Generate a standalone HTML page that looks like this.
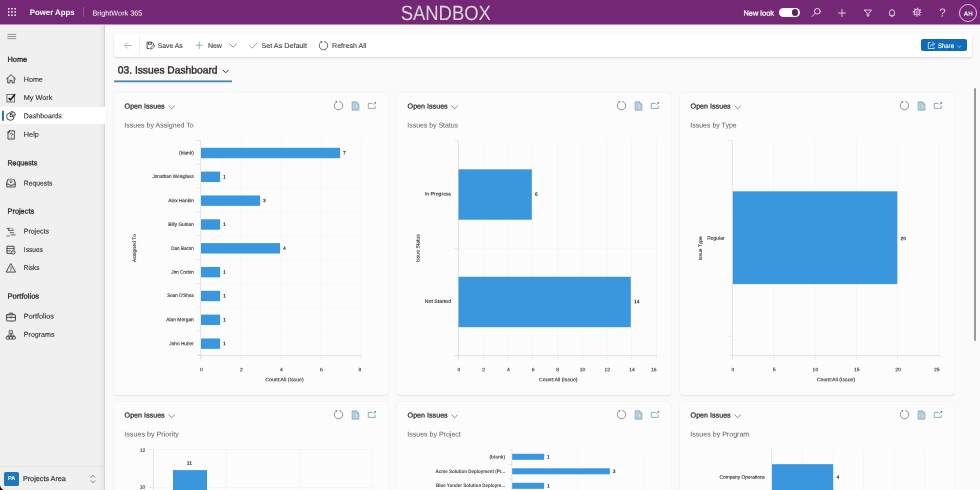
<!DOCTYPE html>
<html><head><meta charset="utf-8"><title>Issues Dashboard</title>
<style>
html,body{margin:0;padding:0;}
body{width:980px;height:490px;overflow:hidden;position:relative;background:#fafafa;font-family:"Liberation Sans",sans-serif;}
.t{position:absolute;white-space:nowrap;filter:grayscale(1);}
.r{position:absolute;overflow:visible;}
#app{position:absolute;left:0;top:0;width:980px;height:490px;overflow:hidden;}
</style></head><body><div id="app">
<div class="r" style="left:0px;top:0px;width:980px;height:490px;background:#fafafa;"></div>
<div class="r" style="left:0px;top:24.5px;width:104.7px;height:466px;background:#f0f0f0;"></div>
<div class="r" style="left:98.5px;top:24.5px;width:6.2px;height:466px;background:linear-gradient(to right,rgba(0,0,0,0),rgba(0,0,0,.06));"></div>
<div class="r" style="left:104.1px;top:24.5px;width:0.6px;height:466px;background:rgba(0,0,0,.07);"></div>
<svg class="r" style="left:0px;top:0px;" width="980" height="26" viewBox="0 0 980 26"><rect x="0" y="0" width="980" height="24.5" fill="#742774"/></svg>
<svg class="r" style="left:7.0px;top:7.3px;" width="10" height="10" viewBox="0 0 10 10"><rect x="1.0" y="1.0" width="1.5" height="1.5" fill="#fff"/><rect x="1.0" y="4.2" width="1.5" height="1.5" fill="#fff"/><rect x="1.0" y="7.4" width="1.5" height="1.5" fill="#fff"/><rect x="4.2" y="1.0" width="1.5" height="1.5" fill="#fff"/><rect x="4.2" y="4.2" width="1.5" height="1.5" fill="#fff"/><rect x="4.2" y="7.4" width="1.5" height="1.5" fill="#fff"/><rect x="7.4" y="1.0" width="1.5" height="1.5" fill="#fff"/><rect x="7.4" y="4.2" width="1.5" height="1.5" fill="#fff"/><rect x="7.4" y="7.4" width="1.5" height="1.5" fill="#fff"/></svg>
<div class="t" style="font-size:8.0px;line-height:12px;left:29px;top:7px;color:#fff;transform-origin:0 50%;transform:translate(0.70px,0.10px) rotate(0.03deg) scaleX(0.9797);font-weight:700;">Power Apps</div>
<div class="r" style="left:83px;top:6.5px;width:0.6px;height:10.5px;background:rgba(255,255,255,.22);"></div>
<div class="t" style="font-size:7.2px;line-height:11px;left:92px;top:7px;color:#fff;transform-origin:0 50%;transform:translate(0.40px,0.50px) rotate(0.03deg) scaleX(1.0104);">BrightWork 365</div>
<div class="t" style="font-size:20.6px;line-height:24px;left:395px;top:0px;color:#eccfea;transform-origin:50% 50%;transform:translate(0.43px,0.80px) rotate(0.03deg) scaleX(0.8964);">SANDBOX</div>
<div class="t" style="font-size:7.2px;line-height:11px;left:743px;top:7px;color:#fff;transform-origin:0 50%;transform:translate(0.50px,0.40px) rotate(0.03deg) scaleX(1.0300);-webkit-text-stroke:0.25px #fff;">New look</div>
<div class="r" style="left:779px;top:8.3px;width:20.5px;height:8.8px;background:#fff;border-radius:5px;"></div>
<div class="r" style="left:791.6px;top:9.4px;width:6.5px;height:6.5px;background:#5e1f5e;border-radius:50%;"></div>
<svg class="r" style="left:811.3000000000001px;top:7.2px;" width="10.6" height="10.6" viewBox="0 0 20 20"><circle cx="12" cy="8" r="5.4" stroke="#f8e4f8" fill="none" stroke-width="1.7" stroke-linecap="round" stroke-linejoin="round"/><path d="M8.1 11.9 L2.3 17.7" stroke="#f8e4f8" fill="none" stroke-width="1.7" stroke-linecap="round" stroke-linejoin="round"/></svg>
<svg class="r" style="left:836.7px;top:7.5px;" width="10" height="10" viewBox="0 0 20 20"><path d="M10 2V18M2 10H18" stroke="#fff" stroke-width="1.45" fill="none"/></svg>
<svg class="r" style="left:862.5px;top:7.5px;" width="10" height="10" viewBox="0 0 20 20"><path d="M3 4H17L11.6 10.6V16.2H8.4V10.6Z" stroke="#f8e4f8" fill="none" stroke-width="1.7" stroke-linecap="round" stroke-linejoin="round"/></svg>
<svg class="r" style="left:886.5px;top:7.5px;" width="10" height="10" viewBox="0 0 20 20"><path d="M5.2 14V8.2a4.8 4.8 0 0 1 9.6 0V14Z M8 16.8a2.2 1.6 0 0 0 4 0" stroke="#f8e4f8" fill="none" stroke-width="1.7" stroke-linecap="round" stroke-linejoin="round"/></svg>
<svg class="r" style="left:912.4px;top:7.4px;" width="10.2" height="10.2" viewBox="0 0 20 20"><circle cx="10" cy="10" r="5.5" stroke="#f6dcf6" stroke-width="1.7" fill="none"/><circle cx="10" cy="10" r="7.5" stroke="#f6dcf6" stroke-width="2.3" fill="none" stroke-dasharray="2.7 3.19" stroke-dashoffset="1.35"/><circle cx="10" cy="10" r="2.3" stroke="#f6dcf6" stroke-width="1.4" fill="none"/></svg>
<div class="t" style="font-size:11.6px;line-height:14px;left:939px;top:5px;color:#f3cdf2;transform-origin:50% 50%;transform:translate(0.37px,0.60px) rotate(0.03deg) scaleX(1.0000);">?</div>
<div class="r" style="left:959.3px;top:4.0px;width:16.2px;height:16.2px;border:0.8px solid #ecc0eb;border-radius:50%;"></div>
<div class="t" style="font-size:6.2px;line-height:9px;left:963px;top:8px;color:#fff;transform-origin:50% 50%;transform:translate(0.72px,0.70px) rotate(0.03deg) scaleX(1.0050);font-weight:700;">AH</div>
<svg class="r" style="left:6.8px;top:32.9px;" width="9.5" height="7" viewBox="0 0 9.5 7"><path d="M0.4 1.4H9.2M0.4 3.5H9.2M0.4 5.6H9.2" stroke="#606060" stroke-width="0.65" fill="none"/></svg>
<div class="t" style="font-size:7.2px;line-height:11px;left:7px;top:53px;color:#262626;transform-origin:0 50%;transform:translate(0.50px,0.80px) rotate(0.03deg) scaleX(1.0206);-webkit-text-stroke:0.28px #262626;">Home</div>
<svg class="r" style="left:5.4px;top:73.4px;" width="12" height="12" viewBox="0 0 20 20"><path d="M2.6 9.8L10 3l7.4 6.8" stroke="#3c3c3c" fill="none" stroke-width="1.55" stroke-linecap="round" stroke-linejoin="round"/><path d="M4.6 8.4V16.6h3.6v-4.4h3.6v4.4h3.6V8.4" stroke="#3c3c3c" fill="none" stroke-width="1.55" stroke-linecap="round" stroke-linejoin="round"/></svg>
<div class="t" style="font-size:7.1px;line-height:10px;left:23px;top:74px;color:#2b2b2b;transform-origin:0 50%;transform:translate(0.80px,0.80px) rotate(0.03deg) scaleX(1.0033);-webkit-text-stroke:0.1px #2b2b2b;">Home</div>
<svg class="r" style="left:5.4px;top:91.6px;" width="12" height="12" viewBox="0 0 20 20"><rect x="3.2" y="4" width="12.6" height="12.6" stroke="#555" fill="none" stroke-width="1.4"/><path d="M6.2 10.2l3 3.1 7.6-9.6" stroke="#111" fill="none" stroke-width="2.5" stroke-linejoin="miter"/></svg>
<div class="t" style="font-size:7.1px;line-height:10px;left:23px;top:92px;color:#2b2b2b;transform-origin:0 50%;transform:translate(0.80px,1.00px) rotate(0.03deg) scaleX(1.0261);-webkit-text-stroke:0.1px #2b2b2b;">My Work</div>
<div class="r" style="left:0px;top:106.8px;width:104.7px;height:17.5px;background:#ffffff;"></div>
<svg class="r" style="left:0px;top:108px;" width="6" height="16" viewBox="0 0 6 16"><rect x="2" y="2.4" width="1.9" height="10.6" rx="0.9" fill="#1e6fae"/></svg>
<svg class="r" style="left:5.4px;top:110.2px;" width="12" height="12" viewBox="0 0 20 20"><path d="M9 4.8A6.2 6.2 0 1 0 15.2 11H9Z" stroke="#3c3c3c" fill="none" stroke-width="1.55" stroke-linecap="round" stroke-linejoin="round"/><path d="M11.4 2.6V8.6H17.4A6 6 0 0 0 11.4 2.6Z" stroke="#3c3c3c" fill="none" stroke-width="1.55" stroke-linecap="round" stroke-linejoin="round"/></svg>
<div class="t" style="font-size:7.1px;line-height:10px;left:23px;top:111px;color:#2b2b2b;transform-origin:0 50%;transform:translate(0.80px,0.30px) rotate(0.03deg) scaleX(0.9900);-webkit-text-stroke:0.1px #2b2b2b;">Dashboards</div>
<svg class="r" style="left:5.4px;top:128.6px;" width="12" height="12" viewBox="0 0 20 20"><path d="M7.5 3H15.5V16.8H5V5.5Z M7.5 3V5.5H5" stroke="#3c3c3c" fill="none" stroke-width="1.55" stroke-linecap="round" stroke-linejoin="round"/><path d="M8.7 8.6a1.9 1.9 0 1 1 2.6 1.8c-.6.3-.9.7-.9 1.4M10.4 14v.2" stroke="#3c3c3c" fill="none" stroke-width="1.3" stroke-linecap="round" stroke-linejoin="round"/></svg>
<div class="t" style="font-size:7.1px;line-height:10px;left:23px;top:129px;color:#2b2b2b;transform-origin:0 50%;transform:translate(0.80px,0.70px) rotate(0.03deg) scaleX(1.0341);-webkit-text-stroke:0.1px #2b2b2b;">Help</div>
<div class="t" style="font-size:7.2px;line-height:11px;left:7px;top:157px;color:#262626;transform-origin:0 50%;transform:translate(0.50px,0.20px) rotate(0.03deg) scaleX(0.9765);-webkit-text-stroke:0.28px #262626;">Requests</div>
<svg class="r" style="left:5.4px;top:177.3px;" width="12" height="12" viewBox="0 0 20 20"><path d="M3 9.5V16.5H17V9.5" stroke="#3c3c3c" fill="none" stroke-width="1.55" stroke-linecap="round" stroke-linejoin="round"/><path d="M3 12h3.8l1 1.8h4.4l1-1.8H17" stroke="#3c3c3c" fill="none" stroke-width="1.55" stroke-linecap="round" stroke-linejoin="round"/><path d="M3 9.5L4.6 4.4h2M17 9.5L15.4 4.4h-2" stroke="#3c3c3c" fill="none" stroke-width="1.55" stroke-linecap="round" stroke-linejoin="round"/><path d="M10 3v6.4M7.9 7.4L10 9.5l2.1-2.1" stroke="#3c3c3c" fill="none" stroke-width="1.3" stroke-linecap="round" stroke-linejoin="round"/></svg>
<div class="t" style="font-size:7.1px;line-height:10px;left:23px;top:178px;color:#2b2b2b;transform-origin:0 50%;transform:translate(0.80px,0.40px) rotate(0.03deg) scaleX(0.9569);-webkit-text-stroke:0.1px #2b2b2b;">Requests</div>
<div class="t" style="font-size:7.2px;line-height:11px;left:7px;top:205px;color:#262626;transform-origin:0 50%;transform:translate(0.50px,0.50px) rotate(0.03deg) scaleX(1.0266);-webkit-text-stroke:0.28px #262626;">Projects</div>
<svg class="r" style="left:5.4px;top:225.6px;" width="12" height="12" viewBox="0 0 20 20"><path d="M3.5 4h5M5.5 7.6h8M8.5 11.2h6M10 14.8h7M11.5 4l2 1.6M5 4l2 3.4" stroke="#3c3c3c" fill="none" stroke-width="1.3" stroke-linecap="round" stroke-linejoin="round"/><path d="M3 16.6h4" stroke="#3c3c3c" fill="none" stroke-width="1.3" stroke-linecap="round" stroke-linejoin="round"/></svg>
<div class="t" style="font-size:7.1px;line-height:10px;left:23px;top:226px;color:#2b2b2b;transform-origin:0 50%;transform:translate(0.80px,0.40px) rotate(0.03deg) scaleX(0.9787);-webkit-text-stroke:0.1px #2b2b2b;">Projects</div>
<svg class="r" style="left:5.4px;top:243.9px;" width="12" height="12" viewBox="0 0 20 20"><path d="M12 15.6H3.4V3.8H15v6" stroke="#3c3c3c" fill="none" stroke-width="1.55" stroke-linecap="round" stroke-linejoin="round"/><path d="M3.4 7.6H15M3.4 11.4h6" stroke="#3c3c3c" fill="none" stroke-width="1.3" stroke-linecap="round" stroke-linejoin="round"/><circle cx="13.8" cy="14" r="3.1" stroke="#3c3c3c" fill="#f0f0f0" stroke-width="1.4"/><path d="M13.8 12.4v1.8M13.8 15.5v.1" stroke="#3c3c3c" stroke-width="1.1" fill="none"/></svg>
<div class="t" style="font-size:7.1px;line-height:10px;left:23px;top:245px;color:#2b2b2b;transform-origin:0 50%;transform:translate(0.80px,0.00px) rotate(0.03deg) scaleX(0.9308);-webkit-text-stroke:0.1px #2b2b2b;">Issues</div>
<svg class="r" style="left:5.4px;top:262.2px;" width="12" height="12" viewBox="0 0 20 20"><path d="M10 3.2L17.6 16.8H2.4Z" stroke="#3c3c3c" fill="none" stroke-width="1.55" stroke-linecap="round" stroke-linejoin="round"/><path d="M10 8.4v4.2M10 14.5v.2" stroke="#3c3c3c" fill="none" stroke-width="1.3" stroke-linecap="round" stroke-linejoin="round"/></svg>
<div class="t" style="font-size:7.1px;line-height:10px;left:23px;top:263px;color:#2b2b2b;transform-origin:0 50%;transform:translate(0.80px,0.30px) rotate(0.03deg) scaleX(0.8989);-webkit-text-stroke:0.1px #2b2b2b;">Risks</div>
<div class="t" style="font-size:7.2px;line-height:11px;left:7px;top:290px;color:#262626;transform-origin:0 50%;transform:translate(0.50px,0.40px) rotate(0.03deg) scaleX(1.0563);-webkit-text-stroke:0.28px #262626;">Portfolios</div>
<svg class="r" style="left:5.4px;top:310.5px;" width="12" height="12" viewBox="0 0 20 20"><rect x="2.6" y="6.2" width="14.8" height="10.4" rx="0.8" stroke="#3c3c3c" fill="none" stroke-width="1.55" stroke-linecap="round" stroke-linejoin="round"/><path d="M7 6.2V3.6h6V6.2M2.6 10.6h14.8M10 9.6v2" stroke="#3c3c3c" fill="none" stroke-width="1.55" stroke-linecap="round" stroke-linejoin="round"/></svg>
<div class="t" style="font-size:7.1px;line-height:10px;left:23px;top:311px;color:#2b2b2b;transform-origin:0 50%;transform:translate(0.80px,0.60px) rotate(0.03deg) scaleX(1.0204);-webkit-text-stroke:0.1px #2b2b2b;">Portfolios</div>
<svg class="r" style="left:5.4px;top:328.7px;" width="12" height="12" viewBox="0 0 20 20"><rect x="7.6" y="3" width="4.8" height="4.4" stroke="#3c3c3c" fill="none" stroke-width="1.3" stroke-linecap="round" stroke-linejoin="round"/><rect x="2.8" y="12.8" width="4.4" height="4" stroke="#3c3c3c" fill="none" stroke-width="1.3" stroke-linecap="round" stroke-linejoin="round"/><rect x="12.8" y="12.8" width="4.4" height="4" stroke="#3c3c3c" fill="none" stroke-width="1.3" stroke-linecap="round" stroke-linejoin="round"/><rect x="7.8" y="12.8" width="4.4" height="4" stroke="#3c3c3c" fill="none" stroke-width="1.3" stroke-linecap="round" stroke-linejoin="round"/><path d="M10 7.4v5.4M5 12.8v-2.6h10v2.6" stroke="#3c3c3c" fill="none" stroke-width="1.3" stroke-linecap="round" stroke-linejoin="round"/></svg>
<div class="t" style="font-size:7.1px;line-height:10px;left:23px;top:329px;color:#2b2b2b;transform-origin:0 50%;transform:translate(0.80px,0.80px) rotate(0.03deg) scaleX(0.9976);-webkit-text-stroke:0.1px #2b2b2b;">Programs</div>
<div class="r" style="left:0px;top:466.2px;width:104.7px;height:0.7px;background:#e4e4e4;"></div>
<svg class="r" style="left:0px;top:484px;" width="5" height="6" viewBox="0 0 5 6"><path d="M0 1.2Q0.4 4.6 3.4 6L0 6Z" fill="#0a0a0a"/></svg>
<div class="r" style="left:4.2px;top:471.6px;width:14.7px;height:14.3px;background:#1f78bd;border-radius:1.6px;"></div>
<div class="t" style="font-size:6.0px;line-height:9px;left:7px;top:474px;color:#fff;transform-origin:50% 50%;transform:translate(0.65px,0.20px) rotate(0.03deg) scaleX(0.9252);font-weight:700;">PA</div>
<div class="t" style="font-size:7.1px;line-height:10px;left:22px;top:474px;color:#3a3a3a;transform-origin:0 50%;transform:translate(0.90px,0.00px) rotate(0.03deg) scaleX(1.0184);-webkit-text-stroke:0.22px #3a3a3a;">Projects Area</div>
<svg class="r" style="left:90px;top:474px;" width="6" height="10" viewBox="0 0 6 10"><path d="M0.8 3.6L3 1.2 5.2 3.6M0.8 6.4L3 8.8 5.2 6.4" stroke="#555" stroke-width="0.7" fill="none"/></svg>
<div class="r" style="left:114px;top:34.2px;width:858px;height:22.6px;background:#fff;border-radius:2.5px;box-shadow:0 1px 2.2px rgba(0,0,0,.15);"></div>
<svg class="r" style="left:123.5px;top:41px;" width="9" height="9" viewBox="0 0 9 9"><path d="M7.6 4.5H1M3.8 1.6L0.9 4.5 3.8 7.4" stroke="#9c9c9c" stroke-width="0.7" fill="none" stroke-linecap="round" stroke-linejoin="round"/></svg>
<div class="r" style="left:139.2px;top:36px;width:0.6px;height:19px;background:#efefef;"></div>
<svg class="r" style="left:146px;top:40.8px;" width="9" height="9" viewBox="0 0 9 9"><path d="M1.1 1.2h4.9l1.5 1.5v1.4M1.1 1.2v6.3h2.3M2.6 1.2v2.1h2.8V1.2" stroke="#444" stroke-width="0.95" fill="none" stroke-linejoin="round"/><path d="M4.5 8.1l0.5-1.7 2.7-2.7 1.2 1.2-2.7 2.7Z" stroke="#444" stroke-width="0.8" fill="#fff" stroke-linejoin="round"/></svg>
<div class="t" style="font-size:6.9px;line-height:10px;left:157px;top:41px;color:#383838;transform-origin:0 50%;transform:translate(0.80px,0.00px) rotate(0.03deg) scaleX(0.9836);-webkit-text-stroke:0.08px #383838;">Save As</div>
<svg class="r" style="left:195px;top:41.1px;" width="8.5" height="8.5" viewBox="0 0 8.5 8.5"><path d="M4.25 0.5V8M0.5 4.25H8" stroke="#58b29a" stroke-width="0.75" fill="none"/></svg>
<div class="t" style="font-size:6.9px;line-height:10px;left:207px;top:41px;color:#383838;transform-origin:0 50%;transform:translate(0.90px,0.00px) rotate(0.03deg) scaleX(1.0143);-webkit-text-stroke:0.08px #383838;">New</div>
<svg class="r" style="left:228.6px;top:43.2px;" width="8.4" height="5" viewBox="0 0 8.4 5"><path d="M0.5 0.6L4.2 4.2 7.9 0.6" stroke="#6a6a6a" stroke-width="0.8" fill="none"/></svg>
<svg class="r" style="left:249px;top:42px;" width="9" height="7" viewBox="0 0 9 7"><path d="M0.6 3.8L3 6.2 8.4 0.7" stroke="#777" stroke-width="0.7" fill="none"/></svg>
<div class="t" style="font-size:6.9px;line-height:10px;left:261px;top:41px;color:#383838;transform-origin:0 50%;transform:translate(0.50px,0.00px) rotate(0.03deg) scaleX(1.0406);-webkit-text-stroke:0.08px #383838;">Set As Default</div>
<svg class="r" style="left:318.2px;top:39.8px;" width="11" height="11" viewBox="0 0 11 11"><path d="M6.23 1.46A4.2 4.2 0 1 1 3.09 2.16" stroke="#4a4a4a" stroke-width="0.85" fill="none"/><path d="M2.5 0.9L4.5 1.5 3.1 3.0Z" fill="#444"/></svg>
<div class="t" style="font-size:6.9px;line-height:10px;left:332px;top:41px;color:#383838;transform-origin:0 50%;transform:translate(0.00px,0.00px) rotate(0.03deg) scaleX(1.0341);-webkit-text-stroke:0.08px #383838;">Refresh All</div>
<div class="r" style="left:920.8px;top:38.8px;width:46.1px;height:12.6px;background:#0f6cbd;border-radius:2px;"></div>
<svg class="r" style="left:926.5px;top:40.8px;" width="9" height="9" viewBox="0 0 9 9"><path d="M3.6 1.6H1.3v5.9h5.9V6.2" stroke="#fff" stroke-width="0.75" fill="none"/><path d="M3.6 5.6C3.8 3.8 4.9 3 6.4 3M5.5 1.2l2.2 1.9-2.2 1.9" stroke="#fff" stroke-width="0.75" fill="none" stroke-linejoin="round"/></svg>
<div class="t" style="font-size:6.6px;line-height:10px;left:938px;top:40px;color:#fff;transform-origin:0 50%;transform:translate(0.00px,0.70px) rotate(0.03deg) scaleX(0.9085);-webkit-text-stroke:0.15px #fff;">Share</div>
<svg class="r" style="left:956.7px;top:44.5px;" width="4.6" height="3.2" viewBox="0 0 4.6 3.2"><path d="M0.5 0.6L2.3 2.4 4.1 0.6" stroke="#fff" stroke-width="0.6" fill="none"/></svg>
<div class="t" style="font-size:10.4px;line-height:14px;left:117px;top:63px;color:#2a2a2a;transform-origin:0 50%;transform:translate(0.80px,0.50px) rotate(0.03deg) scaleX(0.9865);-webkit-text-stroke:0.4px #2a2a2a;">03. Issues Dashboard</div>
<svg class="r" style="left:221.6px;top:68.8px;" width="7.5" height="5" viewBox="0 0 7.5 5"><path d="M0.8 0.9L3.7 3.8 6.6 0.9" stroke="#2b2b2b" stroke-width="1.0" fill="none"/></svg>
<svg class="r" style="left:113px;top:78.5px;" width="121" height="5" viewBox="0 0 121 5"><rect x="1" y="1.6" width="118" height="1.3" rx="0.5" fill="#2f76a9"/><rect x="1.4" y="2.8" width="117.2" height="0.8" rx="0.4" fill="#8fc4e3"/></svg>
<div class="r" style="left:974px;top:87.5px;width:2px;height:253px;background:#9a9a9a;border-radius:1px;"></div>
<div class="r" style="left:114px;top:93px;width:274px;height:302px;background:#fcfcfc;border-radius:3px;box-shadow:0 0.6px 1.8px rgba(0,0,0,.085),0 0 0.8px rgba(0,0,0,.05);"></div>
<div class="t" style="font-size:7.1px;line-height:10px;left:124px;top:101px;color:#262626;transform-origin:0 50%;transform:translate(0.60px,0.40px) rotate(0.03deg) scaleX(1.0061);-webkit-text-stroke:0.23px #262626;">Open Issues</div>
<svg class="r" style="left:168.1px;top:104.7px;" width="7.4" height="4.6" viewBox="0 0 7.4 4.6"><path d="M0.5 0.6L3.7 3.8 6.9 0.6" stroke="#5a5a5a" stroke-width="0.7" fill="none"/></svg>
<div class="t" style="font-size:7.1px;line-height:10px;left:124px;top:120px;color:#5a5a5a;transform-origin:0 50%;transform:translate(0.30px,0.50px) rotate(0.03deg) scaleX(0.9912);">Issues by Assigned To</div>
<svg class="r" style="left:333px;top:100px;" width="11" height="11" viewBox="0 0 11 11"><path d="M6.23 1.46A4.2 4.2 0 1 1 3.09 2.16" stroke="#6d7882" stroke-width="0.8" fill="none"/><path d="M2.5 0.9L4.5 1.5 3.1 3.0Z" fill="#5d6872"/></svg>
<svg class="r" style="left:350.5px;top:100.5px;" width="10" height="10" viewBox="0 0 10 10"><path d="M1.1 0.8h4.6l2.2 2.2v6.2H1.1Z" fill="#b4cedb" stroke="#6f9ab3" stroke-width="0.6"/><path d="M5.7 0.8v2.2h2.2" fill="#dbe8ee" stroke="#6f9ab3" stroke-width="0.5"/><path d="M2.4 4.2h3.8M2.4 5.6h3.8M2.4 7h3.8" stroke="#eef5f8" stroke-width="0.6" fill="none"/><path d="M3.9 3.6v4.2" stroke="#7da6bb" stroke-width="0.7" fill="none"/></svg>
<svg class="r" style="left:367px;top:101px;" width="10" height="10" viewBox="0 0 10 10"><path d="M5.6 2.4H1.3v5h6.9V4.6" stroke="#7c9fae" stroke-width="0.85" fill="none"/><path d="M6.5 3.7L8.3 1.9" stroke="#4c7896" stroke-width="0.7" fill="none"/><circle cx="8.35" cy="1.8" r="0.75" fill="#3b6788"/></svg>
<div class="r" style="left:397px;top:93px;width:274px;height:302px;background:#fcfcfc;border-radius:3px;box-shadow:0 0.6px 1.8px rgba(0,0,0,.085),0 0 0.8px rgba(0,0,0,.05);"></div>
<div class="t" style="font-size:7.1px;line-height:10px;left:407px;top:101px;color:#262626;transform-origin:0 50%;transform:translate(0.60px,0.40px) rotate(0.03deg) scaleX(1.0061);-webkit-text-stroke:0.23px #262626;">Open Issues</div>
<svg class="r" style="left:451.1px;top:104.7px;" width="7.4" height="4.6" viewBox="0 0 7.4 4.6"><path d="M0.5 0.6L3.7 3.8 6.9 0.6" stroke="#5a5a5a" stroke-width="0.7" fill="none"/></svg>
<div class="t" style="font-size:7.1px;line-height:10px;left:407px;top:120px;color:#5a5a5a;transform-origin:0 50%;transform:translate(0.30px,0.50px) rotate(0.03deg) scaleX(0.9752);">Issues by Status</div>
<svg class="r" style="left:616px;top:100px;" width="11" height="11" viewBox="0 0 11 11"><path d="M6.23 1.46A4.2 4.2 0 1 1 3.09 2.16" stroke="#6d7882" stroke-width="0.8" fill="none"/><path d="M2.5 0.9L4.5 1.5 3.1 3.0Z" fill="#5d6872"/></svg>
<svg class="r" style="left:633.5px;top:100.5px;" width="10" height="10" viewBox="0 0 10 10"><path d="M1.1 0.8h4.6l2.2 2.2v6.2H1.1Z" fill="#b4cedb" stroke="#6f9ab3" stroke-width="0.6"/><path d="M5.7 0.8v2.2h2.2" fill="#dbe8ee" stroke="#6f9ab3" stroke-width="0.5"/><path d="M2.4 4.2h3.8M2.4 5.6h3.8M2.4 7h3.8" stroke="#eef5f8" stroke-width="0.6" fill="none"/><path d="M3.9 3.6v4.2" stroke="#7da6bb" stroke-width="0.7" fill="none"/></svg>
<svg class="r" style="left:650px;top:101px;" width="10" height="10" viewBox="0 0 10 10"><path d="M5.6 2.4H1.3v5h6.9V4.6" stroke="#7c9fae" stroke-width="0.85" fill="none"/><path d="M6.5 3.7L8.3 1.9" stroke="#4c7896" stroke-width="0.7" fill="none"/><circle cx="8.35" cy="1.8" r="0.75" fill="#3b6788"/></svg>
<div class="r" style="left:680px;top:93px;width:274px;height:302px;background:#fcfcfc;border-radius:3px;box-shadow:0 0.6px 1.8px rgba(0,0,0,.085),0 0 0.8px rgba(0,0,0,.05);"></div>
<div class="t" style="font-size:7.1px;line-height:10px;left:690px;top:101px;color:#262626;transform-origin:0 50%;transform:translate(0.60px,0.40px) rotate(0.03deg) scaleX(1.0061);-webkit-text-stroke:0.23px #262626;">Open Issues</div>
<svg class="r" style="left:734.1px;top:104.7px;" width="7.4" height="4.6" viewBox="0 0 7.4 4.6"><path d="M0.5 0.6L3.7 3.8 6.9 0.6" stroke="#5a5a5a" stroke-width="0.7" fill="none"/></svg>
<div class="t" style="font-size:7.1px;line-height:10px;left:690px;top:120px;color:#5a5a5a;transform-origin:0 50%;transform:translate(0.30px,0.50px) rotate(0.03deg) scaleX(0.9846);">Issues by Type</div>
<svg class="r" style="left:899px;top:100px;" width="11" height="11" viewBox="0 0 11 11"><path d="M6.23 1.46A4.2 4.2 0 1 1 3.09 2.16" stroke="#6d7882" stroke-width="0.8" fill="none"/><path d="M2.5 0.9L4.5 1.5 3.1 3.0Z" fill="#5d6872"/></svg>
<svg class="r" style="left:916.5px;top:100.5px;" width="10" height="10" viewBox="0 0 10 10"><path d="M1.1 0.8h4.6l2.2 2.2v6.2H1.1Z" fill="#b4cedb" stroke="#6f9ab3" stroke-width="0.6"/><path d="M5.7 0.8v2.2h2.2" fill="#dbe8ee" stroke="#6f9ab3" stroke-width="0.5"/><path d="M2.4 4.2h3.8M2.4 5.6h3.8M2.4 7h3.8" stroke="#eef5f8" stroke-width="0.6" fill="none"/><path d="M3.9 3.6v4.2" stroke="#7da6bb" stroke-width="0.7" fill="none"/></svg>
<svg class="r" style="left:933px;top:101px;" width="10" height="10" viewBox="0 0 10 10"><path d="M5.6 2.4H1.3v5h6.9V4.6" stroke="#7c9fae" stroke-width="0.85" fill="none"/><path d="M6.5 3.7L8.3 1.9" stroke="#4c7896" stroke-width="0.7" fill="none"/><circle cx="8.35" cy="1.8" r="0.75" fill="#3b6788"/></svg>
<div class="r" style="left:114px;top:402px;width:274px;height:120px;background:#fcfcfc;border-radius:3px;box-shadow:0 0.6px 1.8px rgba(0,0,0,.085),0 0 0.8px rgba(0,0,0,.05);"></div>
<div class="t" style="font-size:7.1px;line-height:10px;left:124px;top:410px;color:#262626;transform-origin:0 50%;transform:translate(0.60px,0.40px) rotate(0.03deg) scaleX(1.0061);-webkit-text-stroke:0.23px #262626;">Open Issues</div>
<svg class="r" style="left:168.1px;top:413.7px;" width="7.4" height="4.6" viewBox="0 0 7.4 4.6"><path d="M0.5 0.6L3.7 3.8 6.9 0.6" stroke="#5a5a5a" stroke-width="0.7" fill="none"/></svg>
<div class="t" style="font-size:7.1px;line-height:10px;left:124px;top:429px;color:#5a5a5a;transform-origin:0 50%;transform:translate(0.30px,0.50px) rotate(0.03deg) scaleX(1.0083);">Issues by Priority</div>
<svg class="r" style="left:333px;top:409px;" width="11" height="11" viewBox="0 0 11 11"><path d="M6.23 1.46A4.2 4.2 0 1 1 3.09 2.16" stroke="#6d7882" stroke-width="0.8" fill="none"/><path d="M2.5 0.9L4.5 1.5 3.1 3.0Z" fill="#5d6872"/></svg>
<svg class="r" style="left:350.5px;top:409.5px;" width="10" height="10" viewBox="0 0 10 10"><path d="M1.1 0.8h4.6l2.2 2.2v6.2H1.1Z" fill="#b4cedb" stroke="#6f9ab3" stroke-width="0.6"/><path d="M5.7 0.8v2.2h2.2" fill="#dbe8ee" stroke="#6f9ab3" stroke-width="0.5"/><path d="M2.4 4.2h3.8M2.4 5.6h3.8M2.4 7h3.8" stroke="#eef5f8" stroke-width="0.6" fill="none"/><path d="M3.9 3.6v4.2" stroke="#7da6bb" stroke-width="0.7" fill="none"/></svg>
<svg class="r" style="left:367px;top:410px;" width="10" height="10" viewBox="0 0 10 10"><path d="M5.6 2.4H1.3v5h6.9V4.6" stroke="#7c9fae" stroke-width="0.85" fill="none"/><path d="M6.5 3.7L8.3 1.9" stroke="#4c7896" stroke-width="0.7" fill="none"/><circle cx="8.35" cy="1.8" r="0.75" fill="#3b6788"/></svg>
<div class="r" style="left:397px;top:402px;width:274px;height:120px;background:#fcfcfc;border-radius:3px;box-shadow:0 0.6px 1.8px rgba(0,0,0,.085),0 0 0.8px rgba(0,0,0,.05);"></div>
<div class="t" style="font-size:7.1px;line-height:10px;left:407px;top:410px;color:#262626;transform-origin:0 50%;transform:translate(0.60px,0.40px) rotate(0.03deg) scaleX(1.0061);-webkit-text-stroke:0.23px #262626;">Open Issues</div>
<svg class="r" style="left:451.1px;top:413.7px;" width="7.4" height="4.6" viewBox="0 0 7.4 4.6"><path d="M0.5 0.6L3.7 3.8 6.9 0.6" stroke="#5a5a5a" stroke-width="0.7" fill="none"/></svg>
<div class="t" style="font-size:7.1px;line-height:10px;left:407px;top:429px;color:#5a5a5a;transform-origin:0 50%;transform:translate(0.30px,0.50px) rotate(0.03deg) scaleX(0.9897);">Issues by Project</div>
<svg class="r" style="left:616px;top:409px;" width="11" height="11" viewBox="0 0 11 11"><path d="M6.23 1.46A4.2 4.2 0 1 1 3.09 2.16" stroke="#6d7882" stroke-width="0.8" fill="none"/><path d="M2.5 0.9L4.5 1.5 3.1 3.0Z" fill="#5d6872"/></svg>
<svg class="r" style="left:633.5px;top:409.5px;" width="10" height="10" viewBox="0 0 10 10"><path d="M1.1 0.8h4.6l2.2 2.2v6.2H1.1Z" fill="#b4cedb" stroke="#6f9ab3" stroke-width="0.6"/><path d="M5.7 0.8v2.2h2.2" fill="#dbe8ee" stroke="#6f9ab3" stroke-width="0.5"/><path d="M2.4 4.2h3.8M2.4 5.6h3.8M2.4 7h3.8" stroke="#eef5f8" stroke-width="0.6" fill="none"/><path d="M3.9 3.6v4.2" stroke="#7da6bb" stroke-width="0.7" fill="none"/></svg>
<svg class="r" style="left:650px;top:410px;" width="10" height="10" viewBox="0 0 10 10"><path d="M5.6 2.4H1.3v5h6.9V4.6" stroke="#7c9fae" stroke-width="0.85" fill="none"/><path d="M6.5 3.7L8.3 1.9" stroke="#4c7896" stroke-width="0.7" fill="none"/><circle cx="8.35" cy="1.8" r="0.75" fill="#3b6788"/></svg>
<div class="r" style="left:680px;top:402px;width:274px;height:120px;background:#fcfcfc;border-radius:3px;box-shadow:0 0.6px 1.8px rgba(0,0,0,.085),0 0 0.8px rgba(0,0,0,.05);"></div>
<div class="t" style="font-size:7.1px;line-height:10px;left:690px;top:410px;color:#262626;transform-origin:0 50%;transform:translate(0.60px,0.40px) rotate(0.03deg) scaleX(1.0061);-webkit-text-stroke:0.23px #262626;">Open Issues</div>
<svg class="r" style="left:734.1px;top:413.7px;" width="7.4" height="4.6" viewBox="0 0 7.4 4.6"><path d="M0.5 0.6L3.7 3.8 6.9 0.6" stroke="#5a5a5a" stroke-width="0.7" fill="none"/></svg>
<div class="t" style="font-size:7.1px;line-height:10px;left:690px;top:429px;color:#5a5a5a;transform-origin:0 50%;transform:translate(0.30px,0.50px) rotate(0.03deg) scaleX(0.9969);">Issues by Program</div>
<svg class="r" style="left:899px;top:409px;" width="11" height="11" viewBox="0 0 11 11"><path d="M6.23 1.46A4.2 4.2 0 1 1 3.09 2.16" stroke="#6d7882" stroke-width="0.8" fill="none"/><path d="M2.5 0.9L4.5 1.5 3.1 3.0Z" fill="#5d6872"/></svg>
<svg class="r" style="left:916.5px;top:409.5px;" width="10" height="10" viewBox="0 0 10 10"><path d="M1.1 0.8h4.6l2.2 2.2v6.2H1.1Z" fill="#b4cedb" stroke="#6f9ab3" stroke-width="0.6"/><path d="M5.7 0.8v2.2h2.2" fill="#dbe8ee" stroke="#6f9ab3" stroke-width="0.5"/><path d="M2.4 4.2h3.8M2.4 5.6h3.8M2.4 7h3.8" stroke="#eef5f8" stroke-width="0.6" fill="none"/><path d="M3.9 3.6v4.2" stroke="#7da6bb" stroke-width="0.7" fill="none"/></svg>
<svg class="r" style="left:933px;top:410px;" width="10" height="10" viewBox="0 0 10 10"><path d="M5.6 2.4H1.3v5h6.9V4.6" stroke="#7c9fae" stroke-width="0.85" fill="none"/><path d="M6.5 3.7L8.3 1.9" stroke="#4c7896" stroke-width="0.7" fill="none"/><circle cx="8.35" cy="1.8" r="0.75" fill="#3b6788"/></svg>
<svg class="r" style="left:0;top:0;" width="980" height="490" viewBox="0 0 980 490"><rect x="240.70" y="140.40" width="0.60" height="214.90" fill="#f2f2f2"/><rect x="280.70" y="140.40" width="0.60" height="214.90" fill="#f2f2f2"/><rect x="320.70" y="140.40" width="0.60" height="214.90" fill="#f2f2f2"/><rect x="360.70" y="140.40" width="0.60" height="214.90" fill="#f2f2f2"/><rect x="201.00" y="163.93" width="160.00" height="0.60" fill="#f5f5f5"/><rect x="201.00" y="187.76" width="160.00" height="0.60" fill="#f5f5f5"/><rect x="201.00" y="211.59" width="160.00" height="0.60" fill="#f5f5f5"/><rect x="201.00" y="235.42" width="160.00" height="0.60" fill="#f5f5f5"/><rect x="201.00" y="259.25" width="160.00" height="0.60" fill="#f5f5f5"/><rect x="201.00" y="283.08" width="160.00" height="0.60" fill="#f5f5f5"/><rect x="201.00" y="306.91" width="160.00" height="0.60" fill="#f5f5f5"/><rect x="201.00" y="330.74" width="160.00" height="0.60" fill="#f5f5f5"/><rect x="200.40" y="140.40" width="0.70" height="218.70" fill="#dadada"/><rect x="198.00" y="355.00" width="163.00" height="0.70" fill="#dadada"/><rect x="197.00" y="140.10" width="4.00" height="0.60" fill="#dadada"/><rect x="197.00" y="163.93" width="4.00" height="0.60" fill="#dadada"/><rect x="197.00" y="187.76" width="4.00" height="0.60" fill="#dadada"/><rect x="197.00" y="211.59" width="4.00" height="0.60" fill="#dadada"/><rect x="197.00" y="235.42" width="4.00" height="0.60" fill="#dadada"/><rect x="197.00" y="259.25" width="4.00" height="0.60" fill="#dadada"/><rect x="197.00" y="283.08" width="4.00" height="0.60" fill="#dadada"/><rect x="197.00" y="306.91" width="4.00" height="0.60" fill="#dadada"/><rect x="197.00" y="330.74" width="4.00" height="0.60" fill="#dadada"/><rect x="197.00" y="354.57" width="4.00" height="0.60" fill="#dadada"/><rect x="201.00" y="147.80" width="139.10" height="10.40" fill="#3a96dd"/><rect x="201.00" y="171.63" width="19.10" height="10.40" fill="#3a96dd"/><rect x="201.00" y="195.46" width="59.10" height="10.40" fill="#3a96dd"/><rect x="201.00" y="219.29" width="19.10" height="10.40" fill="#3a96dd"/><rect x="201.00" y="243.12" width="79.10" height="10.40" fill="#3a96dd"/><rect x="201.00" y="266.95" width="19.10" height="10.40" fill="#3a96dd"/><rect x="201.00" y="290.78" width="19.10" height="10.40" fill="#3a96dd"/><rect x="201.00" y="314.61" width="19.10" height="10.40" fill="#3a96dd"/><rect x="201.00" y="338.44" width="19.10" height="10.40" fill="#3a96dd"/><rect x="200.70" y="355.30" width="0.60" height="3.80" fill="#dadada"/><rect x="240.70" y="355.30" width="0.60" height="3.80" fill="#dadada"/><rect x="280.70" y="355.30" width="0.60" height="3.80" fill="#dadada"/><rect x="320.70" y="355.30" width="0.60" height="3.80" fill="#dadada"/><rect x="360.70" y="355.30" width="0.60" height="3.80" fill="#dadada"/><rect x="482.94" y="140.40" width="0.60" height="214.90" fill="#f2f2f2"/><rect x="507.68" y="140.40" width="0.60" height="214.90" fill="#f2f2f2"/><rect x="532.42" y="140.40" width="0.60" height="214.90" fill="#f2f2f2"/><rect x="557.16" y="140.40" width="0.60" height="214.90" fill="#f2f2f2"/><rect x="581.90" y="140.40" width="0.60" height="214.90" fill="#f2f2f2"/><rect x="606.64" y="140.40" width="0.60" height="214.90" fill="#f2f2f2"/><rect x="631.38" y="140.40" width="0.60" height="214.90" fill="#f2f2f2"/><rect x="656.12" y="140.40" width="0.60" height="214.90" fill="#f2f2f2"/><rect x="457.90" y="140.40" width="0.70" height="218.70" fill="#dadada"/><rect x="454.50" y="355.00" width="201.90" height="0.70" fill="#dadada"/><rect x="454.50" y="140.10" width="4.00" height="0.60" fill="#dadada"/><rect x="454.50" y="248.00" width="4.00" height="0.60" fill="#dadada"/><rect x="454.50" y="355.00" width="4.00" height="0.60" fill="#dadada"/><rect x="458.50" y="248.00" width="197.90" height="0.60" fill="#f5f5f5"/><rect x="458.50" y="169.33" width="73.32" height="50.40" fill="#3a96dd"/><rect x="458.50" y="276.78" width="172.28" height="50.40" fill="#3a96dd"/><rect x="458.20" y="355.30" width="0.60" height="3.80" fill="#dadada"/><rect x="482.94" y="355.30" width="0.60" height="3.80" fill="#dadada"/><rect x="507.68" y="355.30" width="0.60" height="3.80" fill="#dadada"/><rect x="532.42" y="355.30" width="0.60" height="3.80" fill="#dadada"/><rect x="557.16" y="355.30" width="0.60" height="3.80" fill="#dadada"/><rect x="581.90" y="355.30" width="0.60" height="3.80" fill="#dadada"/><rect x="606.64" y="355.30" width="0.60" height="3.80" fill="#dadada"/><rect x="631.38" y="355.30" width="0.60" height="3.80" fill="#dadada"/><rect x="656.12" y="355.30" width="0.60" height="3.80" fill="#dadada"/><rect x="773.50" y="140.40" width="0.60" height="214.90" fill="#f2f2f2"/><rect x="814.80" y="140.40" width="0.60" height="214.90" fill="#f2f2f2"/><rect x="856.10" y="140.40" width="0.60" height="214.90" fill="#f2f2f2"/><rect x="897.40" y="140.40" width="0.60" height="214.90" fill="#f2f2f2"/><rect x="938.70" y="140.40" width="0.60" height="214.90" fill="#f2f2f2"/><rect x="731.90" y="140.40" width="0.70" height="218.70" fill="#dadada"/><rect x="729.50" y="355.00" width="209.70" height="0.70" fill="#dadada"/><rect x="728.50" y="140.10" width="4.00" height="0.60" fill="#dadada"/><rect x="728.50" y="335.80" width="4.00" height="0.60" fill="#dadada"/><rect x="732.80" y="191.30" width="164.50" height="92.80" fill="#3a96dd"/><rect x="732.20" y="355.30" width="0.60" height="3.80" fill="#dadada"/><rect x="773.50" y="355.30" width="0.60" height="3.80" fill="#dadada"/><rect x="814.80" y="355.30" width="0.60" height="3.80" fill="#dadada"/><rect x="856.10" y="355.30" width="0.60" height="3.80" fill="#dadada"/><rect x="897.40" y="355.30" width="0.60" height="3.80" fill="#dadada"/><rect x="938.70" y="355.30" width="0.60" height="3.80" fill="#dadada"/><rect x="226.30" y="449.70" width="0.60" height="41.00" fill="#f2f2f2"/><rect x="299.40" y="449.70" width="0.60" height="41.00" fill="#f2f2f2"/><rect x="372.50" y="449.70" width="0.60" height="41.00" fill="#f2f2f2"/><rect x="152.90" y="449.70" width="0.70" height="41.00" fill="#dadada"/><rect x="148.50" y="449.40" width="5.00" height="0.60" fill="#dadada"/><rect x="148.50" y="487.00" width="5.00" height="0.60" fill="#dadada"/><rect x="153.50" y="449.40" width="219.30" height="0.60" fill="#f2f2f2"/><rect x="153.50" y="487.00" width="219.30" height="0.60" fill="#f2f2f2"/><rect x="173.00" y="470.10" width="34.00" height="21.00" fill="#3a96dd"/><rect x="544.75" y="449.70" width="0.60" height="41.00" fill="#f6f6f6"/><rect x="577.60" y="449.70" width="0.60" height="41.00" fill="#f6f6f6"/><rect x="610.45" y="449.70" width="0.60" height="41.00" fill="#f6f6f6"/><rect x="643.30" y="449.70" width="0.60" height="41.00" fill="#f6f6f6"/><rect x="511.60" y="449.70" width="0.70" height="41.00" fill="#dadada"/><rect x="509.20" y="449.40" width="3.00" height="0.60" fill="#dadada"/><rect x="509.20" y="464.00" width="3.00" height="0.60" fill="#dadada"/><rect x="509.20" y="478.60" width="3.00" height="0.60" fill="#dadada"/><rect x="509.20" y="493.20" width="3.00" height="0.60" fill="#dadada"/><rect x="512.20" y="453.80" width="31.95" height="6.00" fill="#3a96dd"/><rect x="512.20" y="468.30" width="97.65" height="6.00" fill="#3a96dd"/><rect x="512.20" y="482.80" width="31.95" height="6.00" fill="#3a96dd"/><rect x="802.30" y="449.70" width="0.60" height="41.00" fill="#f2f2f2"/><rect x="832.90" y="449.70" width="0.60" height="41.00" fill="#f2f2f2"/><rect x="863.50" y="449.70" width="0.60" height="41.00" fill="#f2f2f2"/><rect x="894.10" y="449.70" width="0.60" height="41.00" fill="#f2f2f2"/><rect x="924.70" y="449.70" width="0.60" height="41.00" fill="#f2f2f2"/><rect x="771.40" y="449.70" width="0.70" height="41.00" fill="#dadada"/><rect x="769.00" y="449.40" width="3.00" height="0.60" fill="#dadada"/><rect x="772.00" y="464.20" width="61.20" height="26.00" fill="#3a96dd"/></svg>
<div class="t" style="font-size:5.0px;line-height:8px;left:178px;top:148px;color:#1e1e1e;transform-origin:100% 50%;transform:translate(0.52px,0.50px) rotate(0.03deg) scaleX(0.9619);-webkit-text-stroke:0.08px #1e1e1e;">(blank)</div>
<div class="t" style="font-size:5.0px;line-height:8px;left:343px;top:148px;color:#2a2a2a;transform-origin:0 50%;transform:translate(0.00px,0.60px) rotate(0.03deg) scaleX(1.0000);font-weight:700;">7</div>
<div class="t" style="font-size:5.0px;line-height:8px;left:149px;top:172px;color:#1e1e1e;transform-origin:100% 50%;transform:translate(0.15px,0.33px) rotate(0.03deg) scaleX(0.9271);-webkit-text-stroke:0.08px #1e1e1e;">Jonathan Weisglass</div>
<div class="t" style="font-size:5.0px;line-height:8px;left:223px;top:172px;color:#2a2a2a;transform-origin:0 50%;transform:translate(0.00px,0.43px) rotate(0.03deg) scaleX(1.0000);font-weight:700;">1</div>
<div class="t" style="font-size:5.0px;line-height:8px;left:167px;top:196px;color:#1e1e1e;transform-origin:100% 50%;transform:translate(0.12px,0.16px) rotate(0.03deg) scaleX(0.9558);-webkit-text-stroke:0.08px #1e1e1e;">Alex Hankin</div>
<div class="t" style="font-size:5.0px;line-height:8px;left:263px;top:196px;color:#2a2a2a;transform-origin:0 50%;transform:translate(0.00px,0.26px) rotate(0.03deg) scaleX(1.0000);font-weight:700;">3</div>
<div class="t" style="font-size:5.0px;line-height:8px;left:167px;top:219px;color:#1e1e1e;transform-origin:100% 50%;transform:translate(0.12px,0.99px) rotate(0.03deg) scaleX(0.9558);-webkit-text-stroke:0.08px #1e1e1e;">Billy Guinan</div>
<div class="t" style="font-size:5.0px;line-height:8px;left:223px;top:220px;color:#2a2a2a;transform-origin:0 50%;transform:translate(0.00px,0.09px) rotate(0.03deg) scaleX(1.0000);font-weight:700;">1</div>
<div class="t" style="font-size:5.0px;line-height:8px;left:169px;top:243px;color:#1e1e1e;transform-origin:100% 50%;transform:translate(0.06px,0.82px) rotate(0.03deg) scaleX(0.9096);-webkit-text-stroke:0.08px #1e1e1e;">Dan Bacon</div>
<div class="t" style="font-size:5.0px;line-height:8px;left:283px;top:243px;color:#2a2a2a;transform-origin:0 50%;transform:translate(0.00px,0.92px) rotate(0.03deg) scaleX(1.0000);font-weight:700;">4</div>
<div class="t" style="font-size:5.0px;line-height:8px;left:169px;top:267px;color:#1e1e1e;transform-origin:100% 50%;transform:translate(0.91px,0.65px) rotate(0.03deg) scaleX(0.9417);-webkit-text-stroke:0.08px #1e1e1e;">Jim Corbin</div>
<div class="t" style="font-size:5.0px;line-height:8px;left:223px;top:267px;color:#2a2a2a;transform-origin:0 50%;transform:translate(0.00px,0.75px) rotate(0.03deg) scaleX(1.0000);font-weight:700;">1</div>
<div class="t" style="font-size:5.0px;line-height:8px;left:164px;top:291px;color:#1e1e1e;transform-origin:100% 50%;transform:translate(0.21px,0.48px) rotate(0.03deg) scaleX(0.8957);-webkit-text-stroke:0.08px #1e1e1e;">Sean O'Shea</div>
<div class="t" style="font-size:5.0px;line-height:8px;left:223px;top:291px;color:#2a2a2a;transform-origin:0 50%;transform:translate(0.00px,0.58px) rotate(0.03deg) scaleX(1.0000);font-weight:700;">1</div>
<div class="t" style="font-size:5.0px;line-height:8px;left:165px;top:315px;color:#1e1e1e;transform-origin:100% 50%;transform:translate(0.45px,0.31px) rotate(0.03deg) scaleX(0.9701);-webkit-text-stroke:0.08px #1e1e1e;">Alan Morgan</div>
<div class="t" style="font-size:5.0px;line-height:8px;left:223px;top:315px;color:#2a2a2a;transform-origin:0 50%;transform:translate(0.00px,0.41px) rotate(0.03deg) scaleX(1.0000);font-weight:700;">1</div>
<div class="t" style="font-size:5.0px;line-height:8px;left:167px;top:339px;color:#1e1e1e;transform-origin:100% 50%;transform:translate(0.95px,0.14px) rotate(0.03deg) scaleX(0.9479);-webkit-text-stroke:0.08px #1e1e1e;">John Huber</div>
<div class="t" style="font-size:5.0px;line-height:8px;left:223px;top:339px;color:#2a2a2a;transform-origin:0 50%;transform:translate(0.00px,0.24px) rotate(0.03deg) scaleX(1.0000);font-weight:700;">1</div>
<div class="t" style="font-size:5.0px;line-height:8px;left:199px;top:365px;color:#1e1e1e;transform-origin:50% 50%;transform:translate(0.91px,0.20px) rotate(0.03deg) scaleX(1.0000);-webkit-text-stroke:0.08px #1e1e1e;">0</div>
<div class="t" style="font-size:5.0px;line-height:8px;left:239px;top:365px;color:#1e1e1e;transform-origin:50% 50%;transform:translate(0.91px,0.20px) rotate(0.03deg) scaleX(1.0000);-webkit-text-stroke:0.08px #1e1e1e;">2</div>
<div class="t" style="font-size:5.0px;line-height:8px;left:279px;top:365px;color:#1e1e1e;transform-origin:50% 50%;transform:translate(0.91px,0.20px) rotate(0.03deg) scaleX(1.0000);-webkit-text-stroke:0.08px #1e1e1e;">4</div>
<div class="t" style="font-size:5.0px;line-height:8px;left:319px;top:365px;color:#1e1e1e;transform-origin:50% 50%;transform:translate(0.91px,0.20px) rotate(0.03deg) scaleX(1.0000);-webkit-text-stroke:0.08px #1e1e1e;">6</div>
<div class="t" style="font-size:5.0px;line-height:8px;left:358px;top:365px;color:#1e1e1e;transform-origin:50% 50%;transform:translate(0.61px,0.20px) rotate(0.03deg) scaleX(1.0000);-webkit-text-stroke:0.08px #1e1e1e;">8</div>
<div class="t" style="font-size:5.0px;line-height:8px;left:266px;top:375px;color:#1e1e1e;transform-origin:50% 50%;transform:translate(0.02px,0.20px) rotate(0.03deg) scaleX(1.0418);-webkit-text-stroke:0.08px #1e1e1e;">Count:All (Issue)</div>
<div class="t" style="font-size:5.0px;line-height:8px;left:120px;top:244px;color:#1e1e1e;-webkit-text-stroke:0.08px #1e1e1e;transform:translate(0.43px,0.20px) rotate(-90.03deg) scaleX(1.0277);transform-origin:50% 50%;">Assigned To</div>
<div class="t" style="font-size:5.0px;line-height:8px;left:425px;top:189px;color:#1e1e1e;transform-origin:100% 50%;transform:translate(0.64px,0.62px) rotate(0.03deg) scaleX(1.0366);-webkit-text-stroke:0.08px #1e1e1e;">In Progress</div>
<div class="t" style="font-size:5.0px;line-height:8px;left:535px;top:189px;color:#2a2a2a;transform-origin:0 50%;transform:translate(0.02px,0.83px) rotate(0.03deg) scaleX(1.0000);font-weight:700;">6</div>
<div class="t" style="font-size:5.0px;line-height:8px;left:425px;top:297px;color:#1e1e1e;transform-origin:100% 50%;transform:translate(0.91px,0.08px) rotate(0.03deg) scaleX(1.0479);-webkit-text-stroke:0.08px #1e1e1e;">Not Started</div>
<div class="t" style="font-size:5.0px;line-height:8px;left:633px;top:297px;color:#2a2a2a;transform-origin:0 50%;transform:translate(0.98px,0.28px) rotate(0.03deg) scaleX(1.0000);font-weight:700;">14</div>
<div class="t" style="font-size:5.0px;line-height:8px;left:457px;top:365px;color:#1e1e1e;transform-origin:50% 50%;transform:translate(0.41px,0.20px) rotate(0.03deg) scaleX(1.0000);-webkit-text-stroke:0.08px #1e1e1e;">0</div>
<div class="t" style="font-size:5.0px;line-height:8px;left:482px;top:365px;color:#1e1e1e;transform-origin:50% 50%;transform:translate(0.15px,0.20px) rotate(0.03deg) scaleX(1.0000);-webkit-text-stroke:0.08px #1e1e1e;">2</div>
<div class="t" style="font-size:5.0px;line-height:8px;left:506px;top:365px;color:#1e1e1e;transform-origin:50% 50%;transform:translate(0.89px,0.20px) rotate(0.03deg) scaleX(1.0000);-webkit-text-stroke:0.08px #1e1e1e;">4</div>
<div class="t" style="font-size:5.0px;line-height:8px;left:531px;top:365px;color:#1e1e1e;transform-origin:50% 50%;transform:translate(0.63px,0.20px) rotate(0.03deg) scaleX(1.0000);-webkit-text-stroke:0.08px #1e1e1e;">6</div>
<div class="t" style="font-size:5.0px;line-height:8px;left:556px;top:365px;color:#1e1e1e;transform-origin:50% 50%;transform:translate(0.37px,0.20px) rotate(0.03deg) scaleX(1.0000);-webkit-text-stroke:0.08px #1e1e1e;">8</div>
<div class="t" style="font-size:5.0px;line-height:8px;left:579px;top:365px;color:#1e1e1e;transform-origin:50% 50%;transform:translate(0.72px,0.20px) rotate(0.03deg) scaleX(1.0000);-webkit-text-stroke:0.08px #1e1e1e;">10</div>
<div class="t" style="font-size:5.0px;line-height:8px;left:604px;top:365px;color:#1e1e1e;transform-origin:50% 50%;transform:translate(0.46px,0.20px) rotate(0.03deg) scaleX(1.0000);-webkit-text-stroke:0.08px #1e1e1e;">12</div>
<div class="t" style="font-size:5.0px;line-height:8px;left:629px;top:365px;color:#1e1e1e;transform-origin:50% 50%;transform:translate(0.20px,0.20px) rotate(0.03deg) scaleX(1.0000);-webkit-text-stroke:0.08px #1e1e1e;">14</div>
<div class="t" style="font-size:5.0px;line-height:8px;left:650px;top:365px;color:#1e1e1e;transform-origin:50% 50%;transform:translate(0.94px,0.20px) rotate(0.03deg) scaleX(1.0000);-webkit-text-stroke:0.08px #1e1e1e;">16</div>
<div class="t" style="font-size:5.0px;line-height:8px;left:539px;top:375px;color:#1e1e1e;transform-origin:50% 50%;transform:translate(0.82px,0.20px) rotate(0.03deg) scaleX(1.0418);-webkit-text-stroke:0.08px #1e1e1e;">Count:All (Issue)</div>
<div class="t" style="font-size:5.0px;line-height:8px;left:403px;top:244px;color:#1e1e1e;-webkit-text-stroke:0.08px #1e1e1e;transform:translate(0.84px,0.20px) rotate(-90.03deg) scaleX(1.0141);transform-origin:50% 50%;">Issue Status</div>
<div class="t" style="font-size:5.0px;line-height:8px;left:707px;top:233px;color:#1e1e1e;transform-origin:100% 50%;transform:translate(0.19px,0.80px) rotate(0.03deg) scaleX(0.9995);-webkit-text-stroke:0.08px #1e1e1e;">Regular</div>
<div class="t" style="font-size:5.0px;line-height:8px;left:900px;top:234px;color:#2a2a2a;transform-origin:0 50%;transform:translate(0.50px,0.20px) rotate(0.03deg) scaleX(1.0000);font-weight:700;">20</div>
<div class="t" style="font-size:5.0px;line-height:8px;left:731px;top:365px;color:#1e1e1e;transform-origin:50% 50%;transform:translate(0.41px,0.20px) rotate(0.03deg) scaleX(1.0000);-webkit-text-stroke:0.08px #1e1e1e;">0</div>
<div class="t" style="font-size:5.0px;line-height:8px;left:772px;top:365px;color:#1e1e1e;transform-origin:50% 50%;transform:translate(0.71px,0.20px) rotate(0.03deg) scaleX(1.0000);-webkit-text-stroke:0.08px #1e1e1e;">5</div>
<div class="t" style="font-size:5.0px;line-height:8px;left:812px;top:365px;color:#1e1e1e;transform-origin:50% 50%;transform:translate(0.62px,0.20px) rotate(0.03deg) scaleX(1.0000);-webkit-text-stroke:0.08px #1e1e1e;">10</div>
<div class="t" style="font-size:5.0px;line-height:8px;left:853px;top:365px;color:#1e1e1e;transform-origin:50% 50%;transform:translate(0.92px,0.20px) rotate(0.03deg) scaleX(1.0000);-webkit-text-stroke:0.08px #1e1e1e;">15</div>
<div class="t" style="font-size:5.0px;line-height:8px;left:895px;top:365px;color:#1e1e1e;transform-origin:50% 50%;transform:translate(0.22px,0.20px) rotate(0.03deg) scaleX(1.0000);-webkit-text-stroke:0.08px #1e1e1e;">20</div>
<div class="t" style="font-size:5.0px;line-height:8px;left:934px;top:365px;color:#1e1e1e;transform-origin:50% 50%;transform:translate(0.02px,0.20px) rotate(0.03deg) scaleX(1.0000);-webkit-text-stroke:0.08px #1e1e1e;">25</div>
<div class="t" style="font-size:5.0px;line-height:8px;left:817px;top:375px;color:#1e1e1e;transform-origin:50% 50%;transform:translate(0.52px,0.20px) rotate(0.03deg) scaleX(1.0418);-webkit-text-stroke:0.08px #1e1e1e;">Count:All (Issue)</div>
<div class="t" style="font-size:5.0px;line-height:8px;left:687px;top:244px;color:#1e1e1e;-webkit-text-stroke:0.08px #1e1e1e;transform:translate(0.86px,0.30px) rotate(-90.03deg) scaleX(1.0047);transform-origin:50% 50%;">Issue Type</div>
<div class="t" style="font-size:5.0px;line-height:8px;left:139px;top:445px;color:#1e1e1e;transform-origin:100% 50%;transform:translate(0.84px,0.90px) rotate(0.03deg) scaleX(1.0000);-webkit-text-stroke:0.08px #1e1e1e;">12</div>
<div class="t" style="font-size:5.0px;line-height:8px;left:139px;top:482px;color:#1e1e1e;transform-origin:100% 50%;transform:translate(0.84px,0.80px) rotate(0.03deg) scaleX(1.0000);-webkit-text-stroke:0.08px #1e1e1e;">10</div>
<div class="t" style="font-size:5.0px;line-height:8px;left:186px;top:458px;color:#2a2a2a;transform-origin:50% 50%;transform:translate(0.86px,0.80px) rotate(0.03deg) scaleX(1.0000);font-weight:700;">11</div>
<div class="t" style="font-size:5.0px;line-height:8px;left:488px;top:452px;color:#444;transform-origin:100% 50%;transform:translate(0.61px,0.40px) rotate(0.03deg) scaleX(0.9458);font-weight:700;">(blank)</div>
<div class="t" style="font-size:5.0px;line-height:8px;left:547px;top:452px;color:#2a2a2a;transform-origin:0 50%;transform:translate(0.05px,0.50px) rotate(0.03deg) scaleX(1.0000);font-weight:700;">1</div>
<div class="t" style="font-size:5.0px;line-height:8px;left:427px;top:466px;color:#444;transform-origin:100% 50%;transform:translate(0.77px,0.90px) rotate(0.03deg) scaleX(0.8999);font-weight:700;">Acme Solution Deployment (Pr...</div>
<div class="t" style="font-size:5.0px;line-height:8px;left:612px;top:467px;color:#2a2a2a;transform-origin:0 50%;transform:translate(0.75px,0.00px) rotate(0.03deg) scaleX(1.0000);font-weight:700;">3</div>
<div class="t" style="font-size:5.0px;line-height:8px;left:427px;top:481px;color:#444;transform-origin:100% 50%;transform:translate(0.96px,0.40px) rotate(0.03deg) scaleX(0.8956);font-weight:700;">Blue Yonder Solution Deploym...</div>
<div class="t" style="font-size:5.0px;line-height:8px;left:547px;top:481px;color:#2a2a2a;transform-origin:0 50%;transform:translate(0.05px,0.50px) rotate(0.03deg) scaleX(1.0000);font-weight:700;">1</div>
<div class="t" style="font-size:5.0px;line-height:8px;left:717px;top:472px;color:#1e1e1e;transform-origin:100% 50%;transform:translate(0.76px,0.70px) rotate(0.03deg) scaleX(0.9631);-webkit-text-stroke:0.08px #1e1e1e;">Company Operations</div>
<div class="t" style="font-size:5.0px;line-height:8px;left:836px;top:472px;color:#2a2a2a;transform-origin:0 50%;transform:translate(0.40px,0.70px) rotate(0.03deg) scaleX(1.0000);font-weight:700;">4</div>
</div></body></html>
